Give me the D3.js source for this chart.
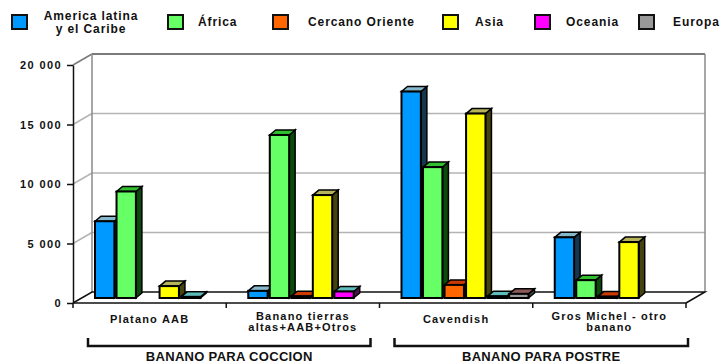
<!DOCTYPE html>
<html>
<head>
<meta charset="utf-8">
<script src="https://cdn.jsdelivr.net/npm/d3@7"></script>
<style>
  html, body { margin: 0; padding: 0; background: #fff; }
  svg { display: block; font-family: "Liberation Sans", Arial, sans-serif; font-weight: bold; }
</style>
</head>
<body>
<svg id="chart" width="720" height="364"></svg>
<script>
// Banana production by type and region (thousand tonnes)
const categories = ["Platano AAB", "Banano tierras altas+AAB+Otros", "Cavendish", "Gros Michel - otro banano"];
const categoryLines = [["Platano AAB"], ["Banano tierras", "altas+AAB+Otros"], ["Cavendish"], ["Gros Michel - otro", "banano"]];
const seriesNames = ["America latina y el Caribe", "África", "Cercano Oriente", "Asia", "Oceania", "Europa"];
const seriesLegendLines = [["America latina", "y el Caribe"], ["África"], ["Cercano Oriente"], ["Asia"], ["Oceania"], ["Europa"]];

const americaLatina = [6450, 600, 17350, 5100];
const africa        = [8950, 13700, 11000, 1500];
const cercanoOriente= [0, 150, 1100, 120];
const asia          = [1000, 8650, 15500, 4700];
const oceania       = [100, 550, 150, 0];
const europa        = [0, 0, 350, 0];

const yTicks = [0, 5000, 10000, 15000, 20000];
const groups = [
  { label: "BANANO PARA COCCION", from: 0, to: 1 },
  { label: "BANANO PARA POSTRE",  from: 2, to: 3 }
];

const seriesValues = [americaLatina, africa, cercanoOriente, asia, oceania, europa];
const frontColors = ["#0099ff", "#66ff66", "#ff6600", "#ffff00", "#ff00ff", "#999999"];
const topColors   = ["#86b8cc", "#2fbf2f", "#cc3a00", "#b5b45a", "#5fbcbc", "#8a5a5a"];
const sideColors  = ["#163650", "#0c4a0c", "#5a2200", "#45430e", "#4d104d", "#444444"];

const svg = d3.select("#chart");

// Frame geometry: front floor edge, and the depth offset to the back wall
const xLeft = 73, xRight = 686;
const floorY = 303, topY = 65;
const depthX = 19, depthY = -11;
// Bars stand part-way into the depth
const barOffX = 8, barOffY = -5;
const barDX = 6, barDY = -5;

const x0 = d3.scaleBand().domain(categories).range([xLeft, xRight]).padding(0);
const x1 = d3.scaleBand().domain(seriesNames).range([14, 141]).paddingInner(0.1).paddingOuter(0);
const y = d3.scaleLinear().domain([0, 20000]).range([floorY, topY]);
const h = v => floorY - y(v);

const fmt = d3.formatLocale({ decimal: ",", thousands: " ", grouping: [3], currency: ["", ""] }).format(",d");

// Back wall and left wall gridlines
const grid = svg.append("g");
yTicks.forEach(t => {
  if (t === 0) return;
  grid.append("line")
    .attr("x1", xLeft).attr("y1", y(t))
    .attr("x2", xLeft + depthX).attr("y2", y(t) + depthY)
    .attr("stroke", t === 20000 ? "#7a7a7a" : "#b4b4b4").attr("stroke-width", 1.5);
  grid.append("line")
    .attr("x1", xLeft + depthX).attr("y1", y(t) + depthY)
    .attr("x2", xRight + depthX).attr("y2", y(t) + depthY)
    .attr("stroke", t === 20000 ? "#7a7a7a" : "#b4b4b4").attr("stroke-width", t === 20000 ? 2 : 1.5);
});
// back wall vertical edges
grid.append("line")
  .attr("x1", xLeft + depthX).attr("y1", y(20000) + depthY)
  .attr("x2", xLeft + depthX).attr("y2", y(0) + depthY)
  .attr("stroke", "#8a8a8a").attr("stroke-width", 1.5);
grid.append("line")
  .attr("x1", xRight + depthX).attr("y1", y(20000) + depthY)
  .attr("x2", xRight + depthX).attr("y2", y(0) + depthY)
  .attr("stroke", "#8a8a8a").attr("stroke-width", 1.5);

// Floor outline
const floor = svg.append("g").attr("fill", "none").attr("stroke", "#111").attr("stroke-width", 1.5);
floor.append("path").attr("d", d3.line()([
  [xLeft, floorY], [xLeft + depthX, floorY + depthY],
  [xRight + depthX, floorY + depthY], [xRight, floorY]
]));

// Bars drawn as boxes, left to right so each one hides the previous side face
const bars = svg.append("g").attr("stroke", "#000").attr("stroke-linejoin", "miter");
categories.forEach((cat, ci) => {
  seriesNames.forEach((s, si) => {
    const v = seriesValues[si][ci];
    if (!v) return;
    const xs = x0(cat) + x1(s) + barOffX;
    const w = x1.bandwidth();
    const base = floorY + barOffY;
    const top = base - h(v);
    const g = bars.append("g");
    g.append("path")
      .attr("d", d3.line()([[xs + w, top], [xs + w + barDX, top + barDY], [xs + w + barDX, base + barDY], [xs + w, base]]) + "Z")
      .attr("fill", sideColors[si]).attr("stroke-width", 1.5);
    g.append("path")
      .attr("d", d3.line()([[xs, top], [xs + barDX, top + barDY], [xs + w + barDX, top + barDY], [xs + w, top]]) + "Z")
      .attr("fill", topColors[si]).attr("stroke-width", 1.5);
    g.append("rect")
      .attr("x", xs).attr("y", top).attr("width", w).attr("height", base - top)
      .attr("fill", frontColors[si]).attr("stroke-width", 2);
  });
});

// Front floor edge drawn over the bar bases
svg.append("line")
  .attr("x1", xLeft).attr("y1", floorY).attr("x2", xRight).attr("y2", floorY)
  .attr("stroke", "#111").attr("stroke-width", 1.5);

// Value axis
const yAxis = svg.append("g")
  .attr("transform", `translate(${xLeft},0)`)
  .call(d3.axisLeft(y).tickValues(yTicks).tickFormat(fmt).tickSize(6).tickSizeOuter(0).tickPadding(5));
yAxis.select(".domain").attr("stroke", "#111").attr("stroke-width", 1.5);
yAxis.selectAll(".tick line").attr("stroke", "#111").attr("stroke-width", 1.5);
yAxis.selectAll(".tick text")
  .attr("fill", "#111").attr("font-size", 11).attr("font-weight", "bold")
  .attr("font-family", "Liberation Sans, Arial, sans-serif")
  .attr("letter-spacing", 1.4).attr("dy", "0.35em");

// Category ticks along the floor front edge
const boundaries = categories.map(c => x0(c)).concat([x0(categories[categories.length - 1]) + x0.bandwidth()]);
svg.append("g").selectAll("line").data(boundaries).join("line")
  .attr("x1", d => d).attr("x2", d => d)
  .attr("y1", floorY).attr("y2", floorY + 5)
  .attr("stroke", "#111").attr("stroke-width", 1.5);

// Category labels
const catLabels = svg.append("g").attr("font-size", 11).attr("fill", "#111")
  .attr("text-anchor", "middle").attr("letter-spacing", 1.2);
categories.forEach((cat, ci) => {
  const lines = categoryLines[ci];
  const cx = x0(cat) + x0.bandwidth() / 2;
  const firstY = lines.length === 1 ? 323 : 320;
  const t = catLabels.append("text").attr("x", cx).attr("y", firstY);
  lines.forEach((ln, li) => {
    t.append("tspan").attr("x", cx).attr("y", firstY + li * 11).text(ln);
  });
});

// Group brackets
const brk = svg.append("g");
groups.forEach(gr => {
  const a = x0(categories[gr.from]) + 15;
  const b = x0(categories[gr.to]) + x0.bandwidth() - (gr.to === categories.length - 1 ? -2 : 9);
  brk.append("path")
    .attr("d", `M${a},338V346H${b}V338`)
    .attr("fill", "none").attr("stroke", "#111").attr("stroke-width", 2.5);
  brk.append("text")
    .attr("x", (a + b) / 2).attr("y", 361)
    .attr("text-anchor", "middle").attr("font-size", 13).attr("letter-spacing", 0.3)
    .attr("fill", "#111").text(gr.label);
});

// Legend
const legendSwatchX = [12, 168, 273, 443, 535, 639];
const legendTextX = [91, 198, 308, 475, 566, 673];
const legend = svg.append("g").attr("font-size", 12).attr("fill", "#111").attr("letter-spacing", 0.9);
seriesNames.forEach((s, si) => {
  legend.append("rect")
    .attr("x", legendSwatchX[si]).attr("y", 15).attr("width", 15).attr("height", 14)
    .attr("fill", frontColors[si]).attr("stroke", "#111").attr("stroke-width", 2);
  const lines = seriesLegendLines[si];
  const t = legend.append("text")
    .attr("text-anchor", lines.length > 1 ? "middle" : "start");
  if (lines.length > 1) {
    lines.forEach((ln, li) => t.append("tspan").attr("x", legendTextX[si]).attr("y", 20 + li * 12.5).text(ln));
  } else {
    t.attr("x", legendTextX[si]).attr("y", 26).text(lines[0]);
  }
});
</script>
</body>
</html>
